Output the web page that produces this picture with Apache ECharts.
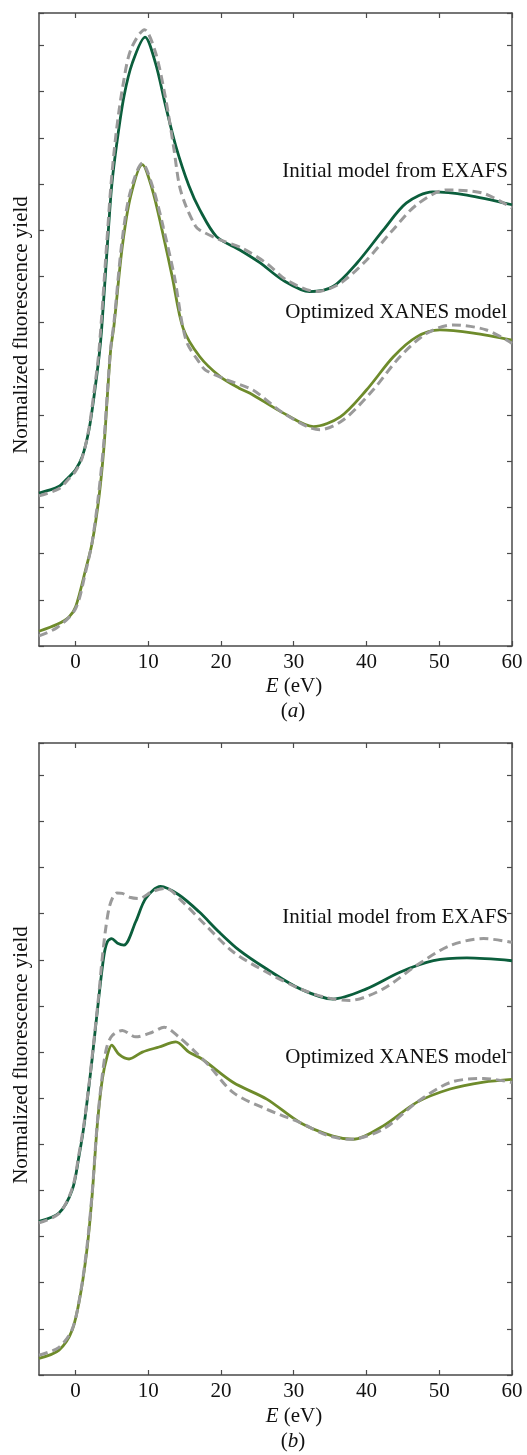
<!DOCTYPE html>
<html>
<head>
<meta charset="utf-8">
<script src="https://cdn.jsdelivr.net/npm/echarts@6/dist/echarts.min.js"></script>
<style>
html,body{margin:0;padding:0;background:#fff;}
#chart{width:527px;height:1455px;}
</style>
</head>
<body>
<div id="chart"></div>
<script>
// ---------- data (E in eV, normalized fluorescence yield with vertical offsets) ----------
var xTickValues = [0, 10, 20, 30, 40, 50, 60];
var labelInitial = 'Initial model from EXAFS';
var labelOptimized = 'Optimized XANES model';
var yAxisTitle = 'Normalized fluorescence yield';

// Panel (a)
var aInitialModel = [[-5,3.31],[-2.3,3.45],[-0.9,3.66],[0,3.81],[0.95,4.10],[1.87,4.68],[2.56,5.40],[3.25,6.26],[3.6,6.84],[4.39,8.66],[4.99,9.96],[5.76,10.96],[6.68,11.9],[7.83,12.62],[9.57,13.18],[11.0,12.62],[12.4,11.69],[13.8,10.82],[15.6,9.96],[17.1,9.44],[19.4,8.86],[22.6,8.57],[25.4,8.29],[28.5,7.92],[32.2,7.67],[35.4,7.78],[38.7,8.29],[42.3,9.0],[45.5,9.59],[49.1,9.83],[53.8,9.76],[60,9.55]];
var aInitialExp = [[-5,3.25],[-2.3,3.40],[-0.9,3.62],[0,3.78],[0.95,4.08],[1.87,4.72],[2.56,5.50],[3.25,6.40],[4.3,8.7],[4.9,10.0],[5.6,11.1],[6.5,12.1],[7.6,12.9],[9.5,13.34],[11.0,12.85],[12.4,11.85],[13.5,10.8],[14.3,9.96],[15.2,9.52],[16.5,9.09],[17.1,9.0],[19.9,8.79],[22.9,8.61],[26.3,8.28],[29.0,7.92],[33.2,7.67],[36.4,7.85],[40.0,8.35],[43.6,9.0],[46.9,9.55],[51.0,9.87],[56.0,9.8],[60,9.48]];
var aOptimizedModel = [[-5,0.32],[-2.5,0.47],[-0.88,0.63],[0.04,0.85],[1.4,1.65],[2.3,2.23],[3.25,3.23],[3.93,4.31],[4.39,5.40],[4.85,6.41],[5.3,6.93],[6.45,8.65],[7.6,9.74],[9.2,10.42],[10.57,9.88],[11.9,9.01],[13.3,8.0],[14.8,6.88],[17.1,6.26],[19.9,5.83],[22.5,5.58],[24.0,5.47],[28.6,5.04],[32.7,4.75],[36.4,4.96],[40.0,5.54],[43.7,6.26],[46.9,6.69],[50.1,6.84],[54.7,6.77],[60,6.62]];
var aOptimizedExp = [[-5,0.22],[-2.5,0.40],[0.0,0.80],[1.4,1.6],[2.3,2.25],[3.2,3.3],[3.9,4.4],[4.4,5.5],[4.85,6.45],[5.3,7.0],[6.4,8.75],[7.5,9.8],[9.2,10.45],[10.7,9.9],[12.1,9.05],[13.6,8.0],[15.2,6.62],[17.1,6.12],[17.9,5.97],[20.8,5.76],[24.4,5.54],[28.6,5.04],[33.6,4.68],[36.8,4.89],[40.9,5.54],[44.6,6.26],[48.3,6.77],[51.9,6.95],[56.5,6.84],[60,6.55]];

// Panel (b)
var bInitialModel = [[-5,3.33],[-2.25,3.51],[-0.42,4.02],[0.5,4.75],[1.18,5.40],[1.87,6.27],[2.3,6.85],[3.25,8.23],[3.93,9.1],[4.39,9.39],[4.99,9.46],[5.8,9.36],[6.68,9.32],[8.3,9.83],[9.66,10.33],[11.7,10.59],[14.2,10.41],[17.0,10.04],[19.7,9.61],[22.5,9.21],[26.3,8.8],[30.9,8.37],[35.4,8.15],[40.0,8.37],[44.6,8.73],[49.2,8.98],[53.8,9.04],[60,8.98]];
var bInitialExp = [[-5,3.30],[-2.25,3.50],[-0.42,4.05],[0.5,4.80],[1.18,5.45],[1.87,6.3],[2.3,6.9],[3.25,8.3],[3.6,8.9],[4.1,9.6],[4.6,10.1],[5.07,10.33],[5.7,10.45],[6.45,10.44],[7.6,10.35],[8.74,10.33],[10.57,10.48],[12.4,10.55],[14.7,10.26],[17.9,9.75],[21.7,9.17],[26.3,8.73],[30.9,8.37],[34.5,8.18],[37.7,8.12],[42.3,8.37],[46.9,8.88],[51.5,9.31],[56.1,9.46],[60,9.38]];
var bOptimizedModel = [[-5,0.36],[-2.25,0.54],[-0.42,0.98],[0.73,1.78],[1.64,2.79],[2.33,3.95],[3.0,5.40],[3.7,6.41],[4.39,6.93],[4.99,7.15],[6.0,6.95],[7.37,6.85],[9.2,7.0],[11.5,7.11],[13.8,7.22],[15.6,7.0],[17.4,6.85],[21.7,6.34],[26.3,5.98],[30.9,5.47],[35.4,5.18],[38.2,5.11],[42.3,5.40],[46.9,5.91],[51.5,6.20],[56.1,6.35],[60,6.41]];
var bOptimizedExp = [[-5,0.43],[-2.25,0.60],[-0.42,1.0],[0.73,1.8],[1.64,2.85],[2.33,4.0],[3.0,5.45],[3.7,6.5],[4.3,7.1],[5.07,7.36],[6.45,7.47],[8.3,7.33],[10.57,7.43],[12.2,7.54],[14.2,7.33],[16.5,7.0],[18.4,6.70],[21.7,6.12],[26.3,5.76],[30.9,5.47],[34.5,5.2],[37.7,5.11],[42.3,5.33],[46.9,5.91],[51.5,6.34],[56.1,6.43],[60,6.34]];

// ---------- styling ----------
var FONT = '"Liberation Serif", "Times New Roman", serif';
var FS = 21;
var AXC = '#4a4a4a';
var C_INIT = '#0b5e3c';
var C_OPT = '#6e8b2b';
var C_EXP = '#9a9a9a';

var chart = echarts.init(document.getElementById('chart'), null, {renderer: 'canvas'});

function xAx(gi, pos, showLabel) {
  return {
    type: 'value', gridIndex: gi, position: pos, min: -5, max: 60,
    axisLine: {show: true, onZero: false, lineStyle: {color: AXC, width: 1.5}},
    axisTick: {show: true, inside: true, length: 5, customValues: xTickValues, lineStyle: {color: AXC, width: 1.2}},
    axisLabel: {show: showLabel, customValues: xTickValues, margin: 6, fontFamily: FONT, fontSize: FS, color: '#111'},
    splitLine: {show: false}
  };
}
function yAx(gi, pos) {
  return {
    type: 'value', gridIndex: gi, position: pos, min: 0, max: 13.7, interval: 1,
    axisLine: {show: true, onZero: false, lineStyle: {color: AXC, width: 1.5}},
    axisTick: {show: true, inside: true, length: 5, lineStyle: {color: AXC, width: 1.2}},
    axisLabel: {show: false},
    splitLine: {show: false}
  };
}
function line(data, xi, yi, color, dashed) {
  return {
    type: 'line', xAxisIndex: xi, yAxisIndex: yi, data: data,
    showSymbol: false, symbol: 'none', smooth: 0.3, silent: true,
    z: dashed ? 5 : 3,
    lineStyle: {color: color, width: dashed ? 3 : 2.8, type: dashed ? [9, 5] : 'solid', cap: 'butt'}
  };
}
function txt(x, y, text, align, rotation) {
  return {
    type: 'text', x: x, y: y, rotation: rotation || 0,
    style: {text: text, fill: '#111', font: FS + 'px ' + FONT, textAlign: align, textVerticalAlign: 'middle', align: align, verticalAlign: 'middle'}
  };
}
function richTxt(x, y, parts) {
  return {
    type: 'text', x: x, y: y,
    style: {
      text: parts, fill: '#111', fontFamily: FONT, fontSize: FS, align: 'center', verticalAlign: 'middle',
      rich: {i: {fontStyle: 'italic', fontFamily: FONT, fontSize: FS, fill: '#111'}}
    }
  };
}

var option = {
  animation: false,
  backgroundColor: '#fff',
  grid: [
    {left: 39, right: 15, top: 13, height: 633, containLabel: false},
    {left: 39, right: 15, top: 743, height: 632, containLabel: false}
  ],
  xAxis: [xAx(0, 'bottom', true), xAx(0, 'top', false), xAx(1, 'bottom', true), xAx(1, 'top', false)],
  yAxis: [yAx(0, 'left'), yAx(0, 'right'), yAx(1, 'left'), yAx(1, 'right')],
  series: [
    line(aInitialModel, 0, 0, C_INIT, false),
    line(aOptimizedModel, 0, 0, C_OPT, false),
    line(aInitialExp, 0, 0, C_EXP, true),
    line(aOptimizedExp, 0, 0, C_EXP, true),
    line(bInitialModel, 2, 2, C_INIT, false),
    line(bOptimizedModel, 2, 2, C_OPT, false),
    line(bInitialExp, 2, 2, C_EXP, true),
    line(bOptimizedExp, 2, 2, C_EXP, true)
  ],
  graphic: [
    txt(508, 171, labelInitial, 'right'),
    txt(507, 312, labelOptimized, 'right'),
    txt(508, 917.5, labelInitial, 'right'),
    txt(507, 1057, labelOptimized, 'right'),
    txt(21, 325, yAxisTitle, 'center', Math.PI / 2),
    txt(21, 1055, yAxisTitle, 'center', Math.PI / 2),
    richTxt(294, 686, '{i|E} (eV)'),
    richTxt(293, 711.5, '({i|a})'),
    richTxt(294, 1416, '{i|E} (eV)'),
    richTxt(293, 1441.5, '({i|b})')
  ]
};
chart.setOption(option);
</script>
</body>
</html>
